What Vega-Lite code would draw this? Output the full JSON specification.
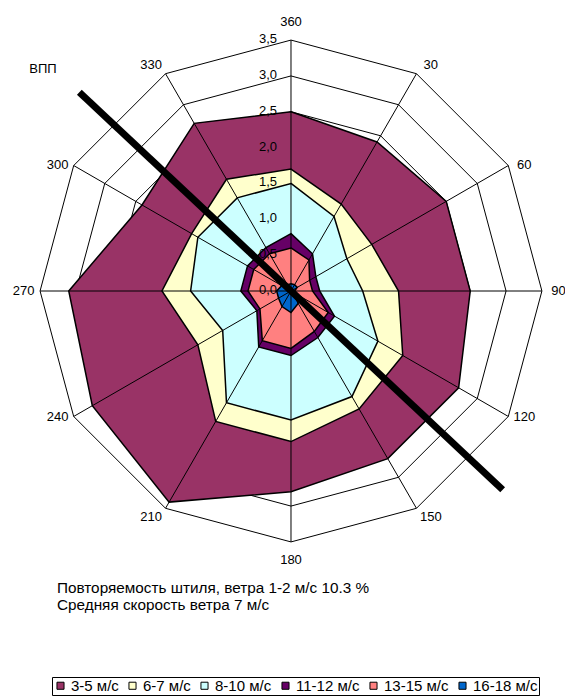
{
  "$schema": "https://vega.github.io/schema/vega-lite/v6.json",
  "width": 565,
  "height": 697,
  "autosize": "none",
  "padding": 0,
  "background": "white",
  "config": {
    "view": {"stroke": null},
    "font": "Liberation Sans",
    "text": {"font": "Liberation Sans", "color": "black"},
    "legend": {
      "orient": "none",
      "legendX": 52,
      "legendY": 677,
      "direction": "horizontal",
      "columns": 6,
      "symbolType": "square",
      "symbolSize": 50,
      "symbolStrokeColor": "black",
      "symbolStrokeWidth": 1,
      "symbolOpacity": 1,
      "labelFont": "Liberation Sans",
      "labelFontSize": 15,
      "labelColor": "black",
      "labelOffset": 3,
      "columnPadding": 6,
      "strokeColor": "black",
      "padding": 1
    }
  },
  "datasets": {
    "wind": [
      {"s": "3-5 м/с", "d": 0, "v": 2.5}, {"s": "3-5 м/с", "d": 30, "v": 2.4}, {"s": "3-5 м/с", "d": 60, "v": 2.5}, {"s": "3-5 м/с", "d": 90, "v": 2.5}, {"s": "3-5 м/с", "d": 120, "v": 2.7}, {"s": "3-5 м/с", "d": 150, "v": 2.7}, {"s": "3-5 м/с", "d": 180, "v": 2.8}, {"s": "3-5 м/с", "d": 210, "v": 3.4}, {"s": "3-5 м/с", "d": 240, "v": 3.2}, {"s": "3-5 м/с", "d": 270, "v": 3.1}, {"s": "3-5 м/с", "d": 300, "v": 2.4}, {"s": "3-5 м/с", "d": 330, "v": 2.7},
      {"s": "6-7 м/с", "d": 0, "v": 1.7}, {"s": "6-7 м/с", "d": 30, "v": 1.4}, {"s": "6-7 м/с", "d": 60, "v": 1.3}, {"s": "6-7 м/с", "d": 90, "v": 1.5}, {"s": "6-7 м/с", "d": 120, "v": 1.8}, {"s": "6-7 м/с", "d": 150, "v": 1.9}, {"s": "6-7 м/с", "d": 180, "v": 2.1}, {"s": "6-7 м/с", "d": 210, "v": 2.1}, {"s": "6-7 м/с", "d": 240, "v": 1.5}, {"s": "6-7 м/с", "d": 270, "v": 1.8}, {"s": "6-7 м/с", "d": 300, "v": 1.6}, {"s": "6-7 м/с", "d": 330, "v": 1.8},
      {"s": "8-10 м/с", "d": 0, "v": 1.5}, {"s": "8-10 м/с", "d": 30, "v": 1.2}, {"s": "8-10 м/с", "d": 60, "v": 0.9}, {"s": "8-10 м/с", "d": 90, "v": 1.0}, {"s": "8-10 м/с", "d": 120, "v": 1.4}, {"s": "8-10 м/с", "d": 150, "v": 1.7}, {"s": "8-10 м/с", "d": 180, "v": 1.8}, {"s": "8-10 м/с", "d": 210, "v": 1.8}, {"s": "8-10 м/с", "d": 240, "v": 1.1}, {"s": "8-10 м/с", "d": 270, "v": 1.4}, {"s": "8-10 м/с", "d": 300, "v": 1.5}, {"s": "8-10 м/с", "d": 330, "v": 1.5},
      {"s": "11-12 м/с", "d": 0, "v": 0.8}, {"s": "11-12 м/с", "d": 30, "v": 0.6}, {"s": "11-12 м/с", "d": 60, "v": 0.4}, {"s": "11-12 м/с", "d": 90, "v": 0.4}, {"s": "11-12 м/с", "d": 120, "v": 0.7}, {"s": "11-12 м/с", "d": 150, "v": 0.75}, {"s": "11-12 м/с", "d": 180, "v": 0.9}, {"s": "11-12 м/с", "d": 210, "v": 0.9}, {"s": "11-12 м/с", "d": 240, "v": 0.55}, {"s": "11-12 м/с", "d": 270, "v": 0.7}, {"s": "11-12 м/с", "d": 300, "v": 0.7}, {"s": "11-12 м/с", "d": 330, "v": 0.7},
      {"s": "13-15 м/с", "d": 0, "v": 0.6}, {"s": "13-15 м/с", "d": 30, "v": 0.5}, {"s": "13-15 м/с", "d": 60, "v": 0.3}, {"s": "13-15 м/с", "d": 90, "v": 0.3}, {"s": "13-15 м/с", "d": 120, "v": 0.6}, {"s": "13-15 м/с", "d": 150, "v": 0.65}, {"s": "13-15 м/с", "d": 180, "v": 0.8}, {"s": "13-15 м/с", "d": 210, "v": 0.8}, {"s": "13-15 м/с", "d": 240, "v": 0.5}, {"s": "13-15 м/с", "d": 270, "v": 0.6}, {"s": "13-15 м/с", "d": 300, "v": 0.6}, {"s": "13-15 м/с", "d": 330, "v": 0.6},
      {"s": "16-18 м/с", "d": 0, "v": 0.1}, {"s": "16-18 м/с", "d": 30, "v": 0.1}, {"s": "16-18 м/с", "d": 60, "v": 0.1}, {"s": "16-18 м/с", "d": 90, "v": 0.05}, {"s": "16-18 м/с", "d": 120, "v": 0.1}, {"s": "16-18 м/с", "d": 150, "v": 0.2}, {"s": "16-18 м/с", "d": 180, "v": 0.3}, {"s": "16-18 м/с", "d": 210, "v": 0.25}, {"s": "16-18 м/с", "d": 240, "v": 0.2}, {"s": "16-18 м/с", "d": 270, "v": 0.2}, {"s": "16-18 м/с", "d": 300, "v": 0.15}, {"s": "16-18 м/с", "d": 330, "v": 0.1}
    ],
    "rings": [
      {"r": 0.5, "d": [0, 30, 60, 90, 120, 150, 180, 210, 240, 270, 300, 330]},
      {"r": 1.0, "d": [0, 30, 60, 90, 120, 150, 180, 210, 240, 270, 300, 330]},
      {"r": 1.5, "d": [0, 30, 60, 90, 120, 150, 180, 210, 240, 270, 300, 330]},
      {"r": 2.0, "d": [0, 30, 60, 90, 120, 150, 180, 210, 240, 270, 300, 330]},
      {"r": 2.5, "d": [0, 30, 60, 90, 120, 150, 180, 210, 240, 270, 300, 330]},
      {"r": 3.0, "d": [0, 30, 60, 90, 120, 150, 180, 210, 240, 270, 300, 330]},
      {"r": 3.5, "d": [0, 30, 60, 90, 120, 150, 180, 210, 240, 270, 300, 330]}
    ],
    "dirs": [
      {"d": 0, "t": "360", "rr": [0, 3.5]}, {"d": 30, "t": "30", "rr": [0, 3.5]}, {"d": 60, "t": "60", "rr": [0, 3.5]}, {"d": 90, "t": "90", "rr": [0, 3.5]}, {"d": 120, "t": "120", "rr": [0, 3.5]}, {"d": 150, "t": "150", "rr": [0, 3.5]}, {"d": 180, "t": "180", "rr": [0, 3.5]}, {"d": 210, "t": "210", "rr": [0, 3.5]}, {"d": 240, "t": "240", "rr": [0, 3.5]}, {"d": 270, "t": "270", "rr": [0, 3.5]}, {"d": 300, "t": "300", "rr": [0, 3.5]}, {"d": 330, "t": "330", "rr": [0, 3.5]}
    ],
    "ticks": [
      {"v": 0, "t": "0,0"}, {"v": 0.5, "t": "0,5"}, {"v": 1.0, "t": "1,0"}, {"v": 1.5, "t": "1,5"}, {"v": 2.0, "t": "2,0"}, {"v": 2.5, "t": "2,5"}, {"v": 3.0, "t": "3,0"}, {"v": 3.5, "t": "3,5"}
    ],
    "runway": [
      {"d": 313.2, "v": 4.05}, {"d": 133.2, "v": 4.05}
    ]
  },
  "layer": [
    {
      "data": {"name": "rings"},
      "transform": [
        {"flatten": ["d"]},
        {"calculate": "datum.r * sin(datum.d * PI / 180)", "as": "x"},
        {"calculate": "datum.r * cos(datum.d * PI / 180)", "as": "y"}
      ],
      "mark": {"type": "line", "interpolate": "linear-closed", "stroke": "black", "strokeWidth": 1},
      "encoding": {
        "x": {"field": "x", "type": "quantitative", "scale": {"domain": [-4.059, 3.822], "nice": false, "zero": false}, "axis": null},
        "y": {"field": "y", "type": "quantitative", "scale": {"domain": [-5.663, 4.059], "nice": false, "zero": false}, "axis": null},
        "detail": {"field": "r", "type": "nominal"},
        "order": {"field": "d", "type": "quantitative"}
      }
    },
    {
      "data": {"name": "wind"},
      "transform": [
        {"calculate": "datum.v * sin(datum.d * PI / 180)", "as": "x"},
        {"calculate": "datum.v * cos(datum.d * PI / 180)", "as": "y"}
      ],
      "layer": [
        {
          "transform": [{"filter": "datum.s == '3-5 м/с'"}],
          "mark": {"type": "line", "interpolate": "linear-closed", "stroke": "black", "strokeWidth": 1.5, "fillOpacity": 1},
          "encoding": {
            "x": {"field": "x", "type": "quantitative", "scale": {"domain": [-4.059, 3.822], "nice": false, "zero": false}, "axis": null},
            "y": {"field": "y", "type": "quantitative", "scale": {"domain": [-5.663, 4.059], "nice": false, "zero": false}, "axis": null},
            "order": {"field": "d", "type": "quantitative"},
            "fill": {"field": "s", "type": "nominal", "title": null, "scale": {"domain": ["3-5 м/с", "6-7 м/с", "8-10 м/с", "11-12 м/с", "13-15 м/с", "16-18 м/с"], "range": ["#993366", "#FFFFCC", "#CCFFFF", "#660066", "#FF8080", "#0066CC"]}}
          }
        },
        {
          "transform": [{"filter": "datum.s == '6-7 м/с'"}],
          "mark": {"type": "line", "interpolate": "linear-closed", "stroke": "black", "strokeWidth": 1.5, "fillOpacity": 1},
          "encoding": {
            "x": {"field": "x", "type": "quantitative", "scale": {"domain": [-4.059, 3.822], "nice": false, "zero": false}, "axis": null},
            "y": {"field": "y", "type": "quantitative", "scale": {"domain": [-5.663, 4.059], "nice": false, "zero": false}, "axis": null},
            "order": {"field": "d", "type": "quantitative"},
            "fill": {"field": "s", "type": "nominal", "title": null, "scale": {"domain": ["3-5 м/с", "6-7 м/с", "8-10 м/с", "11-12 м/с", "13-15 м/с", "16-18 м/с"], "range": ["#993366", "#FFFFCC", "#CCFFFF", "#660066", "#FF8080", "#0066CC"]}}
          }
        },
        {
          "transform": [{"filter": "datum.s == '8-10 м/с'"}],
          "mark": {"type": "line", "interpolate": "linear-closed", "stroke": "black", "strokeWidth": 1.5, "fillOpacity": 1},
          "encoding": {
            "x": {"field": "x", "type": "quantitative", "scale": {"domain": [-4.059, 3.822], "nice": false, "zero": false}, "axis": null},
            "y": {"field": "y", "type": "quantitative", "scale": {"domain": [-5.663, 4.059], "nice": false, "zero": false}, "axis": null},
            "order": {"field": "d", "type": "quantitative"},
            "fill": {"field": "s", "type": "nominal", "title": null, "scale": {"domain": ["3-5 м/с", "6-7 м/с", "8-10 м/с", "11-12 м/с", "13-15 м/с", "16-18 м/с"], "range": ["#993366", "#FFFFCC", "#CCFFFF", "#660066", "#FF8080", "#0066CC"]}}
          }
        },
        {
          "transform": [{"filter": "datum.s == '11-12 м/с'"}],
          "mark": {"type": "line", "interpolate": "linear-closed", "stroke": "black", "strokeWidth": 1.5, "fillOpacity": 1},
          "encoding": {
            "x": {"field": "x", "type": "quantitative", "scale": {"domain": [-4.059, 3.822], "nice": false, "zero": false}, "axis": null},
            "y": {"field": "y", "type": "quantitative", "scale": {"domain": [-5.663, 4.059], "nice": false, "zero": false}, "axis": null},
            "order": {"field": "d", "type": "quantitative"},
            "fill": {"field": "s", "type": "nominal", "title": null, "scale": {"domain": ["3-5 м/с", "6-7 м/с", "8-10 м/с", "11-12 м/с", "13-15 м/с", "16-18 м/с"], "range": ["#993366", "#FFFFCC", "#CCFFFF", "#660066", "#FF8080", "#0066CC"]}}
          }
        },
        {
          "transform": [{"filter": "datum.s == '13-15 м/с'"}],
          "mark": {"type": "line", "interpolate": "linear-closed", "stroke": "black", "strokeWidth": 1.5, "fillOpacity": 1},
          "encoding": {
            "x": {"field": "x", "type": "quantitative", "scale": {"domain": [-4.059, 3.822], "nice": false, "zero": false}, "axis": null},
            "y": {"field": "y", "type": "quantitative", "scale": {"domain": [-5.663, 4.059], "nice": false, "zero": false}, "axis": null},
            "order": {"field": "d", "type": "quantitative"},
            "fill": {"field": "s", "type": "nominal", "title": null, "scale": {"domain": ["3-5 м/с", "6-7 м/с", "8-10 м/с", "11-12 м/с", "13-15 м/с", "16-18 м/с"], "range": ["#993366", "#FFFFCC", "#CCFFFF", "#660066", "#FF8080", "#0066CC"]}}
          }
        },
        {
          "transform": [{"filter": "datum.s == '16-18 м/с'"}],
          "mark": {"type": "line", "interpolate": "linear-closed", "stroke": "black", "strokeWidth": 1.5, "fillOpacity": 1},
          "encoding": {
            "x": {"field": "x", "type": "quantitative", "scale": {"domain": [-4.059, 3.822], "nice": false, "zero": false}, "axis": null},
            "y": {"field": "y", "type": "quantitative", "scale": {"domain": [-5.663, 4.059], "nice": false, "zero": false}, "axis": null},
            "order": {"field": "d", "type": "quantitative"},
            "fill": {"field": "s", "type": "nominal", "title": null, "scale": {"domain": ["3-5 м/с", "6-7 м/с", "8-10 м/с", "11-12 м/с", "13-15 м/с", "16-18 м/с"], "range": ["#993366", "#FFFFCC", "#CCFFFF", "#660066", "#FF8080", "#0066CC"]}}
          }
        }
      ]
    },
    {
      "data": {"name": "dirs"},
      "transform": [
        {"flatten": ["rr"]},
        {"calculate": "datum.rr * sin(datum.d * PI / 180)", "as": "x"},
        {"calculate": "datum.rr * cos(datum.d * PI / 180)", "as": "y"}
      ],
      "mark": {"type": "line", "stroke": "black", "strokeWidth": 1},
      "encoding": {
        "x": {"field": "x", "type": "quantitative", "scale": {"domain": [-4.059, 3.822], "nice": false, "zero": false}, "axis": null},
        "y": {"field": "y", "type": "quantitative", "scale": {"domain": [-5.663, 4.059], "nice": false, "zero": false}, "axis": null},
        "detail": {"field": "d", "type": "nominal"},
        "order": {"field": "rr", "type": "quantitative"}
      }
    },
    {
      "data": {"name": "runway"},
      "transform": [
        {"calculate": "datum.v * sin(datum.d * PI / 180)", "as": "x"},
        {"calculate": "datum.v * cos(datum.d * PI / 180)", "as": "y"}
      ],
      "mark": {"type": "line", "stroke": "black", "strokeWidth": 7, "strokeCap": "butt"},
      "encoding": {
        "x": {"field": "x", "type": "quantitative", "scale": {"domain": [-4.059, 3.822], "nice": false, "zero": false}, "axis": null},
        "y": {"field": "y", "type": "quantitative", "scale": {"domain": [-5.663, 4.059], "nice": false, "zero": false}, "axis": null},
        "order": {"field": "d", "type": "quantitative"}
      }
    },
    {
      "data": {"name": "ticks"},
      "transform": [
        {"calculate": "0", "as": "x"}
      ],
      "mark": {"type": "text", "align": "right", "baseline": "middle", "dx": -14, "dy": -1, "fontSize": 13, "color": "black"},
      "encoding": {
        "x": {"field": "x", "type": "quantitative", "scale": {"domain": [-4.059, 3.822], "nice": false, "zero": false}, "axis": null},
        "y": {"field": "v", "type": "quantitative", "scale": {"domain": [-5.663, 4.059], "nice": false, "zero": false}, "axis": null},
        "text": {"field": "t", "type": "nominal"}
      }
    },
    {
      "data": {"name": "dirs"},
      "transform": [
        {"calculate": "sin(datum.d * PI / 180)", "as": "sn"},
        {"calculate": "cos(datum.d * PI / 180)", "as": "cs"},
        {"calculate": "3.5 * datum.sn + 0.23 * (datum.sn < 0 ? -1 : 1) * pow(abs(datum.sn), 0.2)", "as": "x"},
        {"calculate": "3.5 * datum.cs + 0.25 * (datum.cs < 0 ? -1 : 1) * pow(abs(datum.cs), 5)", "as": "y"}
      ],
      "mark": {"type": "text", "align": "center", "baseline": "middle", "fontSize": 13, "color": "black"},
      "encoding": {
        "x": {"field": "x", "type": "quantitative", "scale": {"domain": [-4.059, 3.822], "nice": false, "zero": false}, "axis": null},
        "y": {"field": "y", "type": "quantitative", "scale": {"domain": [-5.663, 4.059], "nice": false, "zero": false}, "axis": null},
        "text": {"field": "t", "type": "nominal"}
      }
    },
    {
      "data": {"values": [{"t": "ВПП", "px": -3.459, "py": 3.096}]},
      "mark": {"type": "text", "align": "center", "baseline": "middle", "fontSize": 13, "color": "black"},
      "encoding": {
        "x": {"field": "px", "type": "quantitative", "scale": {"domain": [-4.059, 3.822], "nice": false, "zero": false}, "axis": null},
        "y": {"field": "py", "type": "quantitative", "scale": {"domain": [-5.663, 4.059], "nice": false, "zero": false}, "axis": null},
        "text": {"field": "t", "type": "nominal"}
      }
    },
    {
      "data": {"values": [{"t": "Повторяемость штиля, ветра 1-2 м/с 10.3 %", "px": -3.264, "py": -4.146}, {"t": "Средняя скорость ветра 7 м/с", "px": -3.264, "py": -4.383}]},
      "mark": {"type": "text", "align": "left", "baseline": "middle", "fontSize": 15.3, "color": "black"},
      "encoding": {
        "x": {"field": "px", "type": "quantitative", "scale": {"domain": [-4.059, 3.822], "nice": false, "zero": false}, "axis": null},
        "y": {"field": "py", "type": "quantitative", "scale": {"domain": [-5.663, 4.059], "nice": false, "zero": false}, "axis": null},
        "text": {"field": "t", "type": "nominal"}
      }
    }
  ]
}
